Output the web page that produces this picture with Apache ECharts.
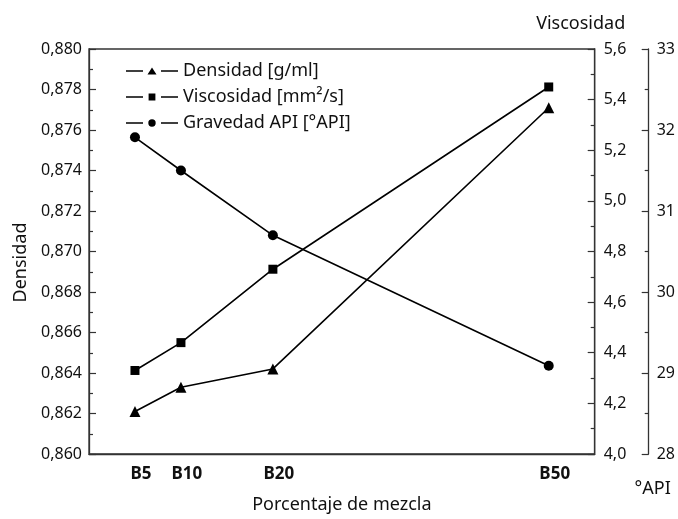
<!DOCTYPE html>
<html>
<head>
<meta charset="utf-8">
<script src="https://cdn.jsdelivr.net/npm/echarts@6/dist/echarts.min.js"></script>
<style>
  html, body { margin: 0; padding: 0; background: #fff; }
  #chart { width: 678px; height: 519px; }
</style>
</head>
<body>
<div id="chart"></div>
<script>
// ---- data ----
const categories = ['B5', 'B10', 'B20', 'B50'];
const percentages = [5, 10, 20, 50];
const densidad = [0.8621, 0.8633, 0.8642, 0.8771];
const viscosidad = [4.33, 4.44, 4.73, 5.45];
const gravedadAPI = [31.91, 31.50, 30.70, 29.09];
const seriesNames = ['Densidad [g/ml]', 'Viscosidad [mm\u00B2/s]', 'Gravedad API [\u00B0API]'];
const axisNames = ['Densidad', 'Viscosidad', '\u00B0API', 'Porcentaje de mezcla'];

const pair = arr => percentages.map((p, i) => [p, arr[i]]);
const comma = d => v => v.toFixed(d).replace('.', ',');

const FONT = 'Noto Sans';
const TXT = '#111';
const AX = '#333';

// legend icons: line - marker - line
const SEG = 'M0,4.3H17V5.7H0Z M35,4.3H52V5.7H35Z ';
const iconTri = 'path://' + SEG + 'M21.5,8.5L26,1.5L30.5,8.5Z';
const iconSq = 'path://' + SEG + 'M22.6,1.6H29.4V8.4H22.6Z';
const iconCir = 'path://' + SEG + 'M22.3,5A3.7,3.7 0 1,0 29.7,5A3.7,3.7 0 1,0 22.3,5Z';

function yAx(extra) {
  return Object.assign({
    type: 'value',
    axisLine: { show: true, lineStyle: { color: AX, width: 1.3 } },
    axisTick: { show: true, inside: true, length: 7, lineStyle: { color: AX, width: 1.2 } },
    minorTick: { show: true, splitNumber: 2, length: 4, lineStyle: { color: AX, width: 1.2 } },
    splitLine: { show: false },
    nameTextStyle: { color: TXT, fontFamily: FONT, fontSize: 18 }
  }, extra);
}

const chart = echarts.init(document.getElementById('chart'), null, { renderer: 'canvas' });
chart.setOption({
  animation: false,
  backgroundColor: '#fff',
  grid: { left: 89, right: 81, top: 49, bottom: 62, show: true, borderColor: AX, borderWidth: 1.3, backgroundColor: 'transparent' },
  legend: {
    orient: 'vertical', left: 121, top: 57, itemWidth: 52, itemHeight: 10, itemGap: 8,
    textStyle: { color: TXT, fontFamily: FONT, fontSize: 18 },
    data: [
      { name: seriesNames[0], icon: iconTri },
      { name: seriesNames[1], icon: iconSq },
      { name: seriesNames[2], icon: iconCir }
    ]
  },
  xAxis: {
    type: 'value', min: 0, max: 55,
    name: axisNames[3], nameLocation: 'middle', nameGap: 42,
    nameTextStyle: { color: TXT, fontFamily: FONT, fontSize: 18 },
    axisLine: { show: true, lineStyle: { color: AX, width: 1.3 } },
    axisTick: { show: false },
    splitLine: { show: false },
    axisLabel: {
      customValues: percentages,
      color: TXT, fontFamily: FONT, fontSize: 17, fontWeight: 'bold', margin: 12,
      padding: [0, 0, 0, 12],
      formatter: v => categories[percentages.indexOf(v)] || ''
    }
  },
  yAxis: [
    yAx({ min: 0.86, max: 0.88, interval: 0.002, position: 'left',
      name: axisNames[0], nameLocation: 'middle', nameGap: 58,
      nameTextStyle: { color: TXT, fontFamily: FONT, fontSize: 18, padding: [0, 22, 0, 0] },
      axisLabel: { color: TXT, fontFamily: FONT, fontSize: 16, margin: 7, formatter: comma(3) } }),
    yAx({ min: 4.0, max: 5.6, interval: 0.2, position: 'right',
      name: axisNames[1], nameLocation: 'end', nameGap: 16,
      nameTextStyle: { color: TXT, fontFamily: FONT, fontSize: 18, padding: [0, 28, 0, 0] },
      axisLabel: { color: TXT, fontFamily: FONT, fontSize: 16, margin: 9, formatter: comma(1) } }),
    yAx({ min: 28, max: 33, interval: 1, position: 'right', offset: 54,
      name: axisNames[2], nameLocation: 'start', nameGap: 26,
      nameTextStyle: { color: TXT, fontFamily: FONT, fontSize: 18, padding: [0, 0, 0, 8] },
      axisLabel: { color: TXT, fontFamily: FONT, fontSize: 16, margin: 8, padding: [12, 0, 0, 0], formatter: v => String(v) } })
  ],
  series: [
    { name: seriesNames[0], type: 'line', yAxisIndex: 0, data: pair(densidad),
      symbol: 'triangle', symbolSize: 11, lineStyle: { color: '#000', width: 1.6 }, itemStyle: { color: '#000' } },
    { name: seriesNames[1], type: 'line', yAxisIndex: 1, data: pair(viscosidad),
      symbol: 'rect', symbolSize: 9, lineStyle: { color: '#000', width: 1.6 }, itemStyle: { color: '#000' } },
    { name: seriesNames[2], type: 'line', yAxisIndex: 2, data: pair(gravedadAPI),
      symbol: 'circle', symbolSize: 10, lineStyle: { color: '#000', width: 1.6 }, itemStyle: { color: '#000' } }
  ]
});
</script>
</body>
</html>
